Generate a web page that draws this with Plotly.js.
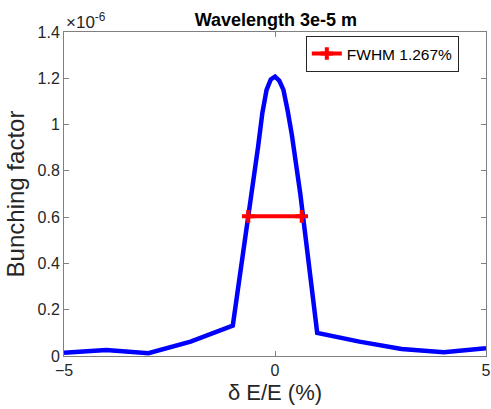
<!DOCTYPE html>
<html><head><meta charset="utf-8">
<script src="https://cdn.plot.ly/plotly-3.0.1.min.js"></script>
<style>body{margin:0;padding:0;background:#fff}#chart{width:491px;height:409px}</style>
</head><body><div id="chart"></div>
<script>
// Energy deviation (%) and bunching factor (units of 1e-6)
const dE = [-5, -4, -3, -2, -1, -0.8, -0.6, -0.4, -0.3, -0.2, -0.1, 0, 0.1, 0.2, 0.3, 0.4, 0.6, 0.8, 1, 2, 3, 4, 5];
const bunching_e6 = [0.014, 0.026, 0.012, 0.062, 0.131, 0.383, 0.635, 0.905, 1.05, 1.15, 1.195, 1.207, 1.19, 1.15, 1.06, 0.955, 0.70, 0.39, 0.10, 0.062, 0.03, 0.016, 0.033];
const fwhmX = [-0.6335, 0.6335];
const fwhmY = [0.6035, 0.6035];
const fwhmLabel = 'FWHM 1.267%';
const yTicks = [0, 0.2, 0.4, 0.6, 0.8, 1, 1.2, 1.4];
const yTickText = ['0', '0.2', '0.4', '0.6', '0.8', '1', '1.2', '1.4'];
const xTicks = [-5, 0, 5];

const font = 'Liberation Sans, Arial, Helvetica, sans-serif';
const traces = [
  {x: dE, y: bunching_e6, mode: 'lines', line: {color: '#0000ff', width: 4.5}, showlegend: false},
  {x: fwhmX, y: fwhmY, mode: 'lines+markers', name: fwhmLabel,
   line: {color: '#ff0000', width: 4},
   marker: {symbol: 'cross-thin', size: 9, color: '#ff0000', line: {color: '#ff0000', width: 4}}}
];
const axisCommon = {showline: true, linecolor: '#808080', linewidth: 1, mirror: 'ticks', ticks: 'inside',
  ticklen: 5, tickcolor: '#808080', showgrid: false, zeroline: false,
  tickfont: {family: font, size: 16, color: '#262626'}};
const layout = {
  width: 491, height: 409,
  margin: {l: 64, r: 5, t: 32, b: 53},
  paper_bgcolor: '#fff', plot_bgcolor: '#fff',
  title: {text: '<b>Wavelength 3e-5 m</b>', font: {family: font, size: 18, color: '#000'},
          x: 0.562, xanchor: 'center', y: 0.953, yanchor: 'middle'},
  xaxis: Object.assign({}, axisCommon, {range: [-5, 5], tickvals: xTicks,
    title: {text: 'δ E/E (%)', font: {family: font, size: 22, color: '#262626'}, standoff: 6}}),
  yaxis: Object.assign({}, axisCommon, {range: [0, 1.4], tickvals: yTicks, ticktext: yTickText,
    title: {text: 'Bunching factor', font: {family: font, size: 24, color: '#262626'}, standoff: 6}}),
  legend: {x: 0.573, y: 0.988, xanchor: 'left', yanchor: 'top', bgcolor: '#fff',
    bordercolor: '#262626', borderwidth: 1, font: {family: font, size: 15.5, color: '#000'},
    itemwidth: 30, tracegroupgap: 0},
  annotations: [{xref: 'paper', yref: 'paper', x: 0, y: 1, xanchor: 'left', yanchor: 'bottom',
    text: '×10<sup>-6</sup>', showarrow: false, font: {family: font, size: 17, color: '#262626'}, yshift: -2}]
};
Plotly.newPlot('chart', traces, layout, {displayModeBar: false, staticPlot: true});
</script></body></html>
